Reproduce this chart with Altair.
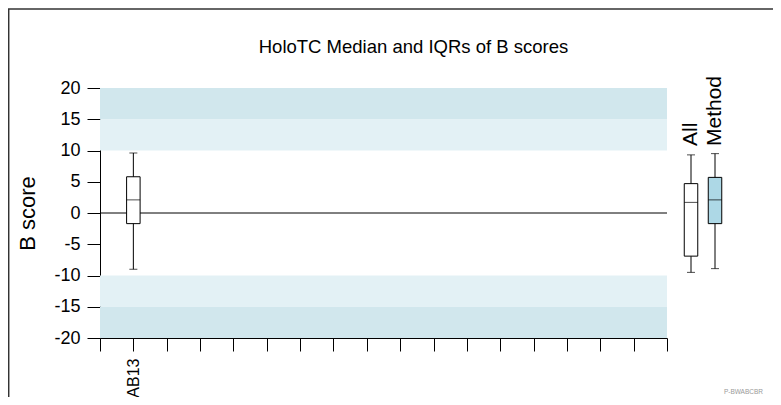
import altair as alt
import pandas as pd

# ---------------- data ----------------
TITLE = "HoloTC Median and IQRs of B scores"
Y_TITLE = "B score"
FOOTNOTE = "P-BWABCBR"
y_ticks = [-20, -15, -10, -5, 0, 5, 10, 15, 20]

categories = ["AB13"]
cat_lo = [-9.0]
cat_q1 = [-1.7]
cat_med = [2.1]
cat_q3 = [5.8]
cat_hi = [9.6]

summary_names = ["All", "Method"]
sum_lo = [-9.5, -8.9]
sum_q1 = [-6.9, -1.7]
sum_med = [1.7, 2.1]
sum_q3 = [4.7, 5.7]
sum_hi = [9.3, 9.5]
sum_fill = ["#ffffff", "#add8e6"]

band_lo = [10, 15, -15, -20]
band_hi = [15, 20, -10, -15]
band_fill = ["#e3f1f5", "#d1e7ed", "#e3f1f5", "#d1e7ed"]

zero_line = [0]

# 18 axis positions: origin, AB13, then empty slots
slot_domain = ["_0"] + categories + [f"_{i}" for i in range(2, 18)]

# ---------------- layout ----------------
W, H = 567, 250
FONT = "Liberation Sans"

cat_df = pd.DataFrame({"cat": categories, "lo": cat_lo, "q1": cat_q1,
                       "med": cat_med, "q3": cat_q3, "hi": cat_hi})
sum_df = pd.DataFrame({"name": summary_names, "lo": sum_lo, "q1": sum_q1,
                       "med": sum_med, "q3": sum_q3, "hi": sum_hi, "fill": sum_fill})
band_df = pd.DataFrame({"lo": band_lo, "hi": band_hi, "fill": band_fill})
zero_df = pd.DataFrame({"v": zero_line})
one_df = pd.DataFrame({"k": [0]})

yscale = alt.Scale(domain=[-20, 20], nice=False, zero=False)
yaxis = alt.Axis(title=Y_TITLE, values=y_ticks, tickSize=13, labelPadding=7,
                 labelExpr="datum.value < 0 ? '-' + abs(datum.value) : '' + datum.value",
                 labelFontSize=18, titleFontSize=22, titleFontWeight="normal",
                 titlePadding=14, domainColor="black", tickColor="black",
                 labelColor="black", titleColor="black", grid=False)


def Y(f):
    return alt.Y(f"{f}:Q", scale=yscale, axis=yaxis)


xmain = alt.X("cat:N",
              scale=alt.Scale(type="point", domain=slot_domain, padding=0),
              axis=alt.Axis(title=None, grid=False, tickSize=13,
                            labelExpr="indexof(datum.label, '_') === 0 ? '' : datum.label",
                            labelAngle=270, labelAlign="right", labelBaseline="middle",
                            labelPadding=7, labelFontSize=16, labelOverlap=False,
                            domainColor="black", tickColor="black", labelColor="black"))

xsum = alt.X("name:N", scale=alt.Scale(type="point", domain=summary_names,
                                       range=[591, 615], padding=0), axis=None)

bands = alt.Chart(band_df).mark_rect().encode(
    y=Y("lo"), y2="hi",
    x=alt.value(0), x2=alt.value(W),
    fill=alt.Fill("fill:N", scale=None))

zero = alt.Chart(zero_df).mark_rule(color="black", strokeWidth=1).encode(
    y=Y("v"), x=alt.value(0), x2=alt.value(W))

BOXW = 13.5
CAPW = 8

main_boxes = alt.layer(
    alt.Chart(cat_df).mark_rule(color="black").encode(x=xmain, y=Y("lo"), y2="hi"),
    alt.Chart(cat_df).mark_bar(size=BOXW, stroke="black", strokeWidth=1, fill="white").encode(
        x=xmain, y=Y("q1"), y2="q3"),
    alt.Chart(cat_df).mark_tick(size=BOXW, thickness=1, color="black").encode(x=xmain, y=Y("med")),
    alt.Chart(cat_df).mark_tick(size=CAPW, thickness=1, color="black").encode(x=xmain, y=Y("lo")),
    alt.Chart(cat_df).mark_tick(size=CAPW, thickness=1, color="black").encode(x=xmain, y=Y("hi")),
)

summary = alt.layer(
    alt.Chart(sum_df).mark_rule(color="black").encode(x=xsum, y=Y("lo"), y2="hi"),
    alt.Chart(sum_df).mark_bar(size=BOXW, stroke="black", strokeWidth=1).encode(
        x=xsum, y=Y("q1"), y2="q3", fill=alt.Fill("fill:N", scale=None)),
    alt.Chart(sum_df).mark_tick(size=BOXW, thickness=1, color="black").encode(x=xsum, y=Y("med")),
    alt.Chart(sum_df).mark_tick(size=CAPW, thickness=1, color="black").encode(x=xsum, y=Y("lo")),
    alt.Chart(sum_df).mark_tick(size=CAPW, thickness=1, color="black").encode(x=xsum, y=Y("hi")),
    alt.Chart(sum_df).mark_text(angle=270, align="left", baseline="middle",
                                fontSize=21, color="black").encode(
        x=xsum, y=alt.value(58), text="name:N"),
)

frame_top = alt.Chart(one_df).mark_rule(color="#333333", strokeWidth=1.5).encode(
    x=alt.value(-92), x2=alt.value(673), y=alt.value(-79))
frame_left = alt.Chart(one_df).mark_rule(color="#333333", strokeWidth=1.5).encode(
    x=alt.value(-91.3), y=alt.value(-79), y2=alt.value(309))

title_text = alt.Chart(pd.DataFrame({"t": [TITLE]})).mark_text(
    align="center", baseline="alphabetic", fontSize=18.5, color="black").encode(
    x=alt.value(313.5), y=alt.value(-35), text="t:N")

foot = alt.Chart(pd.DataFrame({"t": [FOOTNOTE]})).mark_text(
    align="right", baseline="bottom", fontSize=6.5, color="#999999").encode(
    x=alt.value(663), y=alt.value(307), text="t:N")

chart = alt.layer(
    bands, zero, main_boxes, summary, frame_top, frame_left, title_text, foot
).resolve_scale(x="independent").properties(
    width=W, height=H,
    autosize=alt.AutoSizeParams(type="none"),
    padding={"left": 92, "top": 80, "right": 106, "bottom": 59},
).configure(font=FONT, background="white").configure_view(stroke=None)

chart.save("out.html", embed_options={"renderer": "svg", "actions": False})
